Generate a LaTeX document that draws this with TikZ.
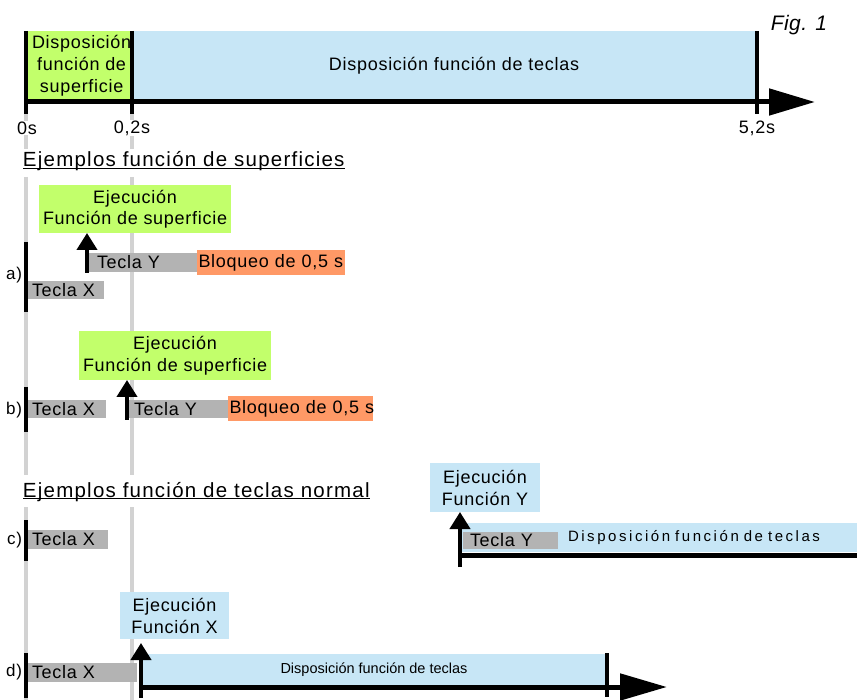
\documentclass[tikz,border=0pt]{standalone}
\usepackage{fontspec}
\setmainfont{Liberation Sans}[LetterSpace=4]
\usetikzlibrary{arrows.meta,calc}
\definecolor{lgreen}{HTML}{C2FF6B}
\definecolor{lblue}{HTML}{C7E6F6}
\definecolor{lgray}{HTML}{B3B3B3}
\definecolor{orng}{HTML}{FF9966}
\definecolor{vgray}{HTML}{D2D2D2}
\newcommand\fsz[2]{\fontsize{#1pt}{#2pt}\selectfont}
\tikzset{
  every node/.style={inner sep=0pt, outer sep=0pt},
  rect/.style={anchor=north west, inner xsep=4pt, inner ysep=0pt, font=\fsz{18}{21}},
  graybox/.style={rect, fill=lgray, align=left},
  orangebox/.style={rect, fill=orng, align=left, inner xsep=1.5pt},
  greenbox/.style={rect, fill=lgreen, align=center},
  bluebox/.style={rect, fill=lblue, align=center},
  upar/.style={line width=4pt, -{Triangle[length=17pt,width=20pt]}},
  axisline/.style={line width=5pt},
  bar/.style={line width=4pt},
  guide/.style={line width=3.5pt, vgray},
  lbl/.style={font=\fsz{17}{20}},
  ticklbl/.style={font=\fsz{18}{21}, fill=white, inner sep=0.5pt},
  heading/.style={anchor=base west, font={\fsz{20.5}{24}\addfontfeatures{LetterSpace=6}}},
}
\begin{document}
\begin{tikzpicture}[x=1pt,y=-1pt]
\useasboundingbox (0,0) rectangle (857,700);
% guide lines
\draw[guide] (26,114) -- (26,149);
\draw[guide] (132,114) -- (132,149);
\draw[guide] (26,177) -- (26,475);
\draw[guide] (132,177) -- (132,475);
\draw[guide] (26,507) -- (26,700);
\draw[guide] (132,507) -- (132,700);
% top timeline
\node[greenbox, minimum width=103pt, minimum height=69pt, font=\fsz{18}{22}] (tg) at (28,31) {Disposición\\función de\\superficie};
\node[bluebox, minimum width=624pt, minimum height=69pt] (tb) at (133,31) {\hspace*{18pt}Disposición función de teclas};
\coordinate (ax0) at (24,102);
\coordinate (ax1) at (815,102);
\draw[axisline, -{Triangle[length=46pt,width=26pt]}] (ax0) -- (ax1);
\draw[bar] (26,31) -- (26,114);
\draw[bar] (131.5,31) -- (131.5,114);
\draw[bar] (757,31) -- (757,114);
\node[ticklbl] (t0) at (27,128) {0s};
\node[ticklbl] (t1) at (132,128) {0,2s};
\node[ticklbl] (t2) at (757,128) {5,2s};
\node[font={\fsz{21}{24}\itshape\addfontfeatures{LetterSpace=2}}] (fig) at (799,25) {Fig. 1};
% heading 1
\node[heading] (h1) at (23,167) {Ejemplos función de superficies};
\draw[line width=1.4pt] ([yshift=-1.6pt]h1.base west) -- ([yshift=-1.6pt]h1.base east);
% row a
\draw[bar] (26,242) -- (26,312);
\node[lbl, anchor=east] (la) at (22,275) {a)};
\node[graybox, minimum width=76pt, minimum height=18pt, text width=68pt] (ax) at (28,281) {Tecla X};
\node[graybox, minimum width=109pt, minimum height=19pt, inner xsep=9pt, text width=91pt] (ay) at (88,253) {Tecla Y};
\node[orangebox, minimum width=148pt, minimum height=25pt, text width=145pt] (ab) at (197,250) {\mbox{Bloqueo de 0,5 s}};
\node[greenbox, minimum width=191pt, minimum height=48pt, font=\fsz{18}{21.5}] (ag) at (39,185) {Ejecución\\Función de superficie};
\coordinate (aa) at (87,273);
\draw[upar] (aa) -- (aa |- ag.south);
% row b
\draw[bar] (26,387) -- (26,432);
\node[lbl, anchor=east] (lb) at (22,410) {b)};
\node[graybox, minimum width=78pt, minimum height=18pt, text width=70pt] (bx) at (28,400) {Tecla X};
\node[graybox, minimum width=99pt, minimum height=18pt, inner xsep=5pt, text width=89pt] (by) at (129,400) {Tecla Y};
\node[orangebox, minimum width=145pt, minimum height=25pt, text width=142pt] (bb) at (228,396) {\mbox{Bloqueo de 0,5 s}};
\node[greenbox, minimum width=189pt, minimum height=49pt, font=\fsz{18}{21.5}] (bg) at (79,331) {Ejecución\\Función de superficie};
\coordinate (ba) at (127,420);
\draw[upar] (ba) -- (ba |- bg.south);
% heading 2
\node[heading] (h2) at (23,497) {Ejemplos función de teclas normal};
\draw[line width=1.4pt] ([yshift=-1.6pt]h2.base west) -- ([yshift=-1.6pt]h2.base east);
% row c
\draw[bar] (26,520) -- (26,561);
\node[lbl, anchor=east] (lc) at (22,540) {c)};
\node[graybox, minimum width=80pt, minimum height=19pt, text width=72pt] (cx) at (28,530) {Tecla X};
\node[rect, fill=lblue, minimum width=397pt, minimum height=29pt, text width=397pt, inner xsep=0pt, align=left, font={\fsz{15}{17}\addfontfeatures{LetterSpace=17}}] (cd) at (460,523) {\hspace*{108pt}Disposición función de teclas};
\node[graybox, minimum width=95pt, minimum height=17pt, inner xsep=7pt, text width=81pt] (cy) at (463,532) {Tecla Y};
\node[bluebox, minimum width=110pt, minimum height=49pt, font=\fsz{18}{22}] (ce) at (430,463) {Ejecución\\Función Y};
\coordinate (cl0) at (460,555);
\coordinate (cl1) at (857,555);
\draw[axisline] (cl0) -- (cl1);
\coordinate (ca) at (460,567);
\draw[upar] (ca) -- (ca |- ce.south);
% row d
\draw[bar] (26,653) -- (26,698);
\node[lbl, anchor=east] (ld) at (22,672) {d)};
\node[graybox, minimum width=109pt, minimum height=19pt, text width=101pt] (dx) at (28,663) {Tecla X};
\node[bluebox, minimum width=466pt, minimum height=31pt, font={\fsz{14.5}{17}\addfontfeatures{LetterSpace=0}}] (dd) at (141,654) {Disposición función de teclas};
\node[bluebox, minimum width=109pt, minimum height=47pt, font=\fsz{18}{22}] (de) at (120,592) {Ejecución\\Función X};
\draw[bar] (607,653) -- (607,697);
\coordinate (dl0) at (141,687);
\coordinate (dl1) at (667,687);
\draw[axisline, -{Triangle[length=47pt,width=26pt]}] (dl0) -- (dl1);
\coordinate (da) at (141,698);
\draw[upar] (da) -- ($(da |- de.south)+(0,4)$);
\end{tikzpicture}
\end{document}
